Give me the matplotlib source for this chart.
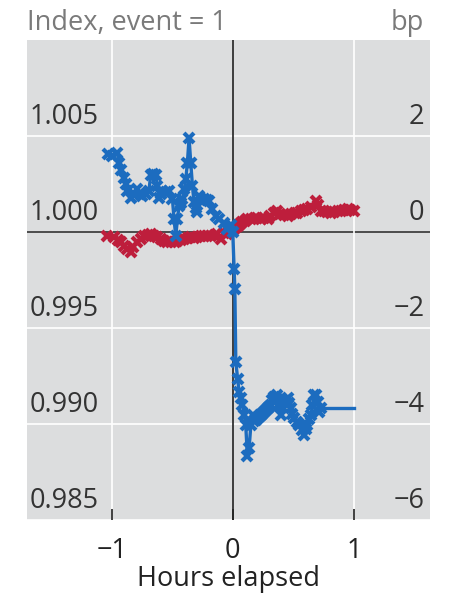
import numpy as np
import matplotlib.pyplot as plt

plt.rcParams['font.family'] = ['Open Sans', 'DejaVu Sans']

# --- dados ---
# serie vermelha (indice, event = 1), eixo esquerdo
red_x = [-1.04, -0.98, -0.95, -0.926, -0.90, -0.870, -0.843, -0.82, -0.788, -0.76, -0.733,
         -0.70, -0.678, -0.65, -0.622, -0.59, -0.568, -0.54, -0.512, -0.48, -0.457, -0.43,
         -0.402, -0.37, -0.347, -0.32, -0.292, -0.26, -0.237, -0.21, -0.182, -0.15, -0.127,
         -0.10, -0.072, -0.044, -0.02, 0.0, 0.02, 0.039, 0.06, 0.08, 0.10, 0.121, 0.15,
         0.18, 0.204, 0.23, 0.26, 0.287, 0.31, 0.34, 0.369, 0.39, 0.42, 0.452, 0.48, 0.51,
         0.534, 0.56, 0.59, 0.617, 0.65, 0.686, 0.70, 0.727, 0.75, 0.78, 0.810, 0.84,
         0.87, 0.893, 0.92, 0.948, 0.97, 1.00]
red_y = [0.99981, 0.99973, 0.99960, 0.99947, 0.99930, 0.99912, 0.99895, 0.99925, 0.99947,
         0.99965, 0.99981, 0.99985, 0.99990, 0.99980, 0.99973, 0.99962, 0.99955, 0.99950,
         0.99947, 0.99950, 0.99955, 0.99960, 0.99964, 0.99968, 0.99973, 0.99970, 0.99973,
         0.99978, 0.99981, 0.99978, 0.99981, 0.99986, 0.99990, 0.99964, 0.99998, 0.99990,
         1.00005, 1.00010, 1.00020, 1.00033, 1.00045, 1.00055, 1.00060, 1.00067, 1.00070,
         1.00074, 1.00076, 1.00070, 1.00072, 1.00067, 1.00085, 1.00100, 1.00110, 1.00095,
         1.00088, 1.00084, 1.00092, 1.00098, 1.00102, 1.00108, 1.00115, 1.00119, 1.00130,
         1.00162, 1.00140, 1.00110, 1.00108, 1.00105, 1.00102, 1.00106, 1.00108, 1.00110,
         1.00115, 1.00119, 1.00114, 1.00110]

# serie azul (bp), eixo direito
blue_x = [-1.03, -1.0, -0.953, -0.939, -0.92, -0.898, -0.885, -0.870, -0.843, -0.815, -0.788,
          -0.765, -0.747, -0.72, -0.692, -0.678, -0.655, -0.636, -0.622, -0.609, -0.595,
          -0.581, -0.555, -0.527, -0.498, -0.485, -0.471, -0.457, -0.444, -0.43, -0.416,
          -0.40, -0.388, -0.375, -0.361, -0.347, -0.333, -0.320, -0.305, -0.292, -0.278,
          -0.26, -0.237, -0.215, -0.196, -0.168, -0.140, -0.113, -0.072, -0.044, -0.015,
          0.0, 0.011, 0.017, 0.025, 0.040, 0.052, 0.066, 0.080, 0.094, 0.107, 0.121, 0.135,
          0.149, 0.163, 0.176, 0.19, 0.204, 0.218, 0.231, 0.245, 0.259, 0.273, 0.287, 0.30,
          0.314, 0.328, 0.341, 0.355, 0.369, 0.383, 0.397, 0.41, 0.424, 0.438, 0.452, 0.465,
          0.479, 0.493, 0.507, 0.527, 0.548, 0.568, 0.589, 0.603, 0.617, 0.631, 0.645, 0.658,
          0.672, 0.686, 0.700, 0.713, 0.727]
blue_y = [1.62, 1.58, 1.65, 1.44, 1.30, 1.13, 1.00, 0.86, 0.72, 0.80, 0.89, 0.80, 0.75, 0.80,
          0.86, 1.20, 1.22, 1.20, 0.96, 0.72, 0.80, 0.86, 0.84, 0.86, 0.68, 0.27, -0.08, 0.27,
          0.54, 0.60, 0.68, 0.90, 1.10, 1.44, 1.96, 1.44, 0.96, 0.62, 0.50, 0.41, 0.75, 0.70,
          0.68, 0.66, 0.65, 0.48, 0.34, 0.27, 0.20, 0.06, 0.15,
          0.0, -0.77, -1.18, -2.70, -3.05, -3.32, -3.45, -3.60, -3.81, -4.02, -4.67, -4.50,
          -4.02, -3.81, -3.94, -3.92, -3.88, -3.84, -3.81, -3.78, -3.74, -3.70, -3.67, -3.64,
          -3.60, -3.50, -3.43, -3.45, -3.39, -3.60, -3.81, -3.65, -3.53, -3.50, -3.46, -3.56,
          -3.67, -3.78, -3.88, -3.95, -4.02, -4.12, -4.22, -4.10, -4.02, -3.90, -3.81, -3.60,
          -3.39, -3.40, -3.53, -3.74, -3.67]
blue_fim = 1.0  # linha plana ate 1 hora (sem marcadores)

left_ticks = [0.985, 0.990, 0.995, 1.000, 1.005]
right_ticks = [-6, -4, -2, 0, 2]
x_ticks = [-1, 0, 1]

cor_azul = '#1c6cbf'
cor_verm = '#be1e3c'
fundo = '#dcddde'

fig = plt.figure(figsize=(4.49, 5.98), dpi=100)
ax = fig.add_axes([0.060, 0.130, 0.898, 0.803])
ax.set_facecolor(fundo)
for s in ax.spines.values():
    s.set_visible(False)

ax.set_xlim(-1.7, 1.63)
ax.set_ylim(0.985, 1.010)

ax2 = ax.twinx()
ax2.set_ylim(-6, 4)
for s in ax2.spines.values():
    s.set_visible(False)
ax2.set_yticks([])

# grade
for v in left_ticks:
    if v == 1.0:
        ax.axhline(v, color='#333333', lw=1.2, zorder=1)
    else:
        ax.axhline(v, color='white', lw=1.2, zorder=1)
for v in x_ticks:
    if v == 0:
        ax.axvline(v, color='#222222', lw=1.2, zorder=1)
    else:
        ax.axvline(v, color='white', lw=1.2, zorder=1)

# series
ax.plot(red_x, red_y, color=cor_verm, lw=2.4, marker='x', ms=7, mew=3, zorder=3)
ax2.plot(blue_x, blue_y, color=cor_azul, lw=2.4, marker='x', ms=7, mew=3, zorder=4)
ax2.plot([blue_x[-1], blue_fim], [blue_y[-1], blue_y[-1]], color=cor_azul, lw=2.4, zorder=4)

# rotulos dos eixos dentro da area
ax.set_yticks([])
for v in left_ticks:
    ax.annotate(f'{v:.3f}', xy=(0, v), xycoords=ax.get_yaxis_transform(),
                xytext=(2, 4), textcoords='offset points', ha='left', va='bottom',
                fontsize=19.5, color='#333333')
for v in right_ticks:
    lab = f'{v}'.replace('-', '\u2212')
    ax2.annotate(lab, xy=(1, v), xycoords=ax2.get_yaxis_transform(),
                 xytext=(-4, 4), textcoords='offset points', ha='right', va='bottom',
                 fontsize=19.5, color='#333333')

ax.set_xticks(x_ticks)
ax.set_xticklabels([f'{v}'.replace('-', '\u2212') for v in x_ticks])
ax.tick_params(axis='x', direction='in', length=8, width=1.2, color='#222222',
               labelsize=19.5, labelcolor='#222222', pad=12)
ax.set_xlabel('Hours elapsed', fontsize=19.5, color='#222222', labelpad=0)

fig.text(0.060, 0.962, 'Index, event = 1', fontsize=19.5, color='#7a7a7a', va='center', ha='left')
fig.text(0.945, 0.962, 'bp', fontsize=19.5, color='#7a7a7a', va='center', ha='right')

fig.savefig('out.png', dpi=100)
